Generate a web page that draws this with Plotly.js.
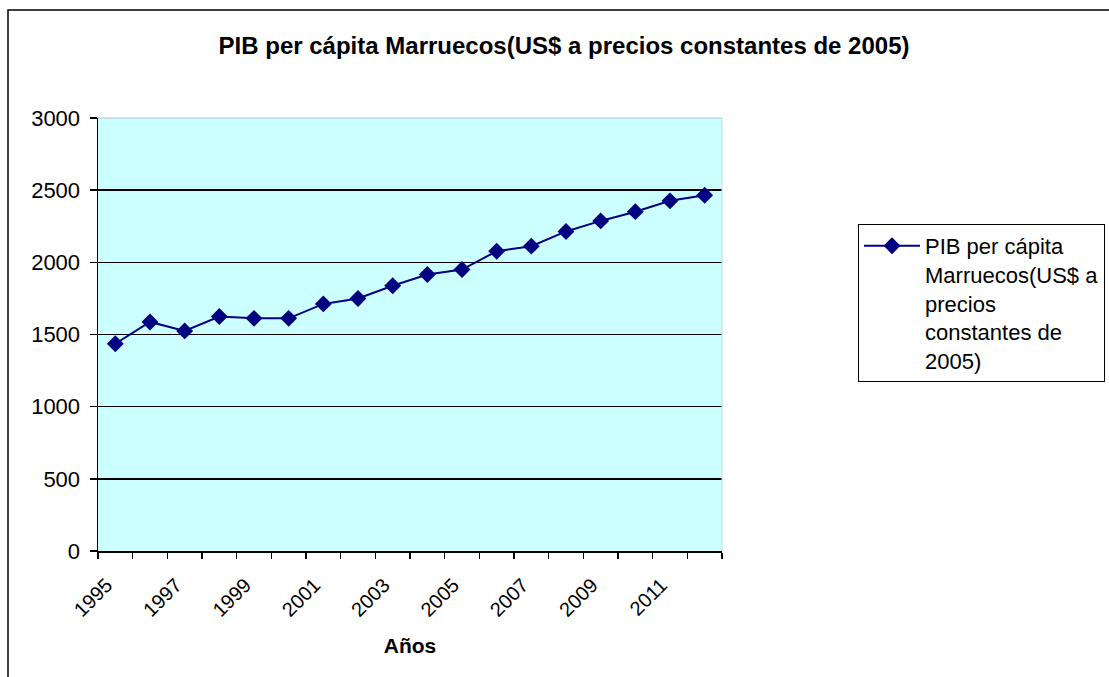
<!DOCTYPE html>
<html>
<head>
<meta charset="utf-8">
<script src="https://cdn.plot.ly/plotly-3.0.1.min.js"></script>
<style>
  html, body { margin: 0; padding: 0; background: #ffffff; }
  #chart { width: 1109px; height: 677px; }
</style>
</head>
<body>
<div id="chart"></div>
<script>
// ---- Data ----
const years = [1995, 1996, 1997, 1998, 1999, 2000, 2001, 2002, 2003,
               2004, 2005, 2006, 2007, 2008, 2009, 2010, 2011, 2012];
const pibPerCapita = [1436, 1587, 1525, 1625, 1612, 1612, 1712, 1749, 1838,
                      1916, 1950, 2077, 2112, 2214, 2287, 2351, 2426, 2465];
const labelYears = [1995, 1997, 1999, 2001, 2003, 2005, 2007, 2009, 2011];
const seriesName = "PIB per cápita<br>Marruecos(US$ a<br>precios<br>constantes de<br>2005)";
const chartTitle = "PIB per cápita Marruecos(US$ a precios constantes de 2005)";
const xTitle = "Años";
const yTicks = [0, 500, 1000, 1500, 2000, 2500, 3000];

// category boundaries (ticks between years, Excel style)
const boundaries = years.map(y => y - 0.5).concat([years[years.length - 1] + 0.5]);
const xRange = [boundaries[0], boundaries[boundaries.length - 1]];
// Excel anchors rotated labels slightly left of the category centre
const labelAnchorOffset = -0.25;

const FONT = "Liberation Sans, Arial, sans-serif";

const trace = {
  x: years,
  y: pibPerCapita,
  type: "scatter",
  mode: "lines+markers",
  name: seriesName,
  line: { color: "#000080", width: 2 },
  marker: { symbol: "diamond", size: 13, color: "#000080" },
  showlegend: true
};

const layout = {
  width: 1109,
  height: 677,
  paper_bgcolor: "#ffffff",
  plot_bgcolor: "#ccffff",
  margin: { l: 98, r: 387, t: 118, b: 126, pad: 0, autoexpand: false },
  font: { family: FONT, color: "#000000", size: 20 },
  title: {
    text: "<b>" + chartTitle + "</b>",
    font: { family: FONT, size: 24, color: "#000000" },
    xref: "container", x: 0.5086, xanchor: "center",
    yref: "container", y: 0.932, yanchor: "middle"
  },
  xaxis: {
    type: "linear",
    range: xRange,
    tickmode: "array",
    tickvals: labelYears.map(y => y + labelAnchorOffset),
    ticktext: labelYears.map(String),
    tickangle: -45,
    ticks: "",
    ticklabelstandoff: 13,
    tickfont: { family: FONT, size: 20, color: "#000000" },
    minor: {
      tickmode: "array",
      tickvals: boundaries,
      ticks: "outside",
      ticklen: 6,
      tickwidth: 1.5,
      tickcolor: "#000000",
      showgrid: false
    },
    showline: true,
    linecolor: "#000000",
    linewidth: 1.5,
    showgrid: false,
    zeroline: false,
    fixedrange: true,
    automargin: false,
    title: {
      text: "<b>" + xTitle + "</b>",
      font: { family: FONT, size: 21, color: "#000000" },
      standoff: 18
    }
  },
  yaxis: {
    range: [0, 3000],
    tickmode: "array",
    tickvals: yTicks,
    ticktext: yTicks.map(String),
    ticks: "outside",
    ticklen: 7,
    tickwidth: 1.5,
    tickcolor: "#000000",
    tickfont: { family: FONT, size: 22, color: "#000000" },
    ticklabelstandoff: 5,
    showline: true,
    linecolor: "#000000",
    linewidth: 1.5,
    showgrid: true,
    gridcolor: "#000000",
    gridwidth: 1.6,
    zeroline: false,
    fixedrange: true,
    automargin: false
  },
  showlegend: true,
  legend: {
    x: (858 - 98) / 624,
    xanchor: "left",
    y: (551 - 224) / 433,
    yanchor: "top",
    bgcolor: "#ffffff",
    bordercolor: "#000000",
    borderwidth: 1,
    valign: "top",
    itemwidth: 56,
    font: { family: FONT, size: 22, color: "#000000" },
    tracegroupgap: 0
  },
  shapes: [
    // outer chart-area border (Excel chart frame, clipped at right/bottom)
    { type: "rect", xref: "paper", yref: "paper",
      x0: (8 - 98) / 624, x1: 2.0, y0: -0.5, y1: (551 - 10) / 433,
      line: { color: "#000000", width: 1.5 }, fillcolor: "rgba(0,0,0,0)", layer: "below" },
    // light plot-area border top and right
    { type: "line", xref: "paper", yref: "paper", x0: 0, x1: 1, y0: 1, y1: 1,
      line: { color: "#a8c8c8", width: 1 } },
    { type: "line", xref: "paper", yref: "paper", x0: 1, x1: 1, y0: 0, y1: 1,
      line: { color: "#c0e0e0", width: 1 } }
  ]
};

Plotly.newPlot("chart", [trace], layout, { staticPlot: true, displayModeBar: false });
</script>
</body>
</html>
